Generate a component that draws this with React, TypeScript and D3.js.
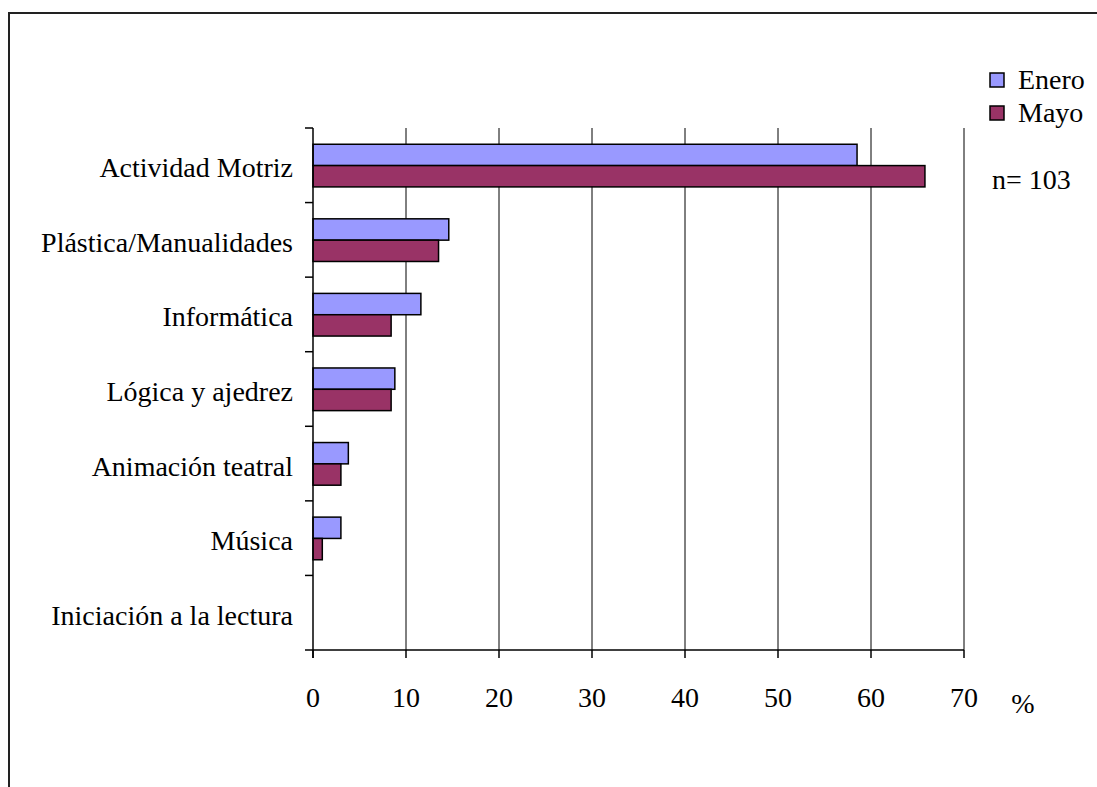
import React from "react";
import * as d3 from "d3";

const categories = [
  "Actividad Motriz",
  "Plástica/Manualidades",
  "Informática",
  "Lógica y ajedrez",
  "Animación teatral",
  "Música",
  "Iniciación a la lectura",
];
const seriesNames = ["Enero", "Mayo"];
const eneroValues = [58.5, 14.6, 11.6, 8.8, 3.8, 3.0, 0];
const mayoValues = [65.8, 13.5, 8.4, 8.4, 3.0, 1.0, 0];
const xTicks = [0, 10, 20, 30, 40, 50, 60, 70];
const seriesColors = ["#9999FF", "#993366"];
const sampleNote = "n= 103";
const unitLabel = "%";

export default function App() {
  const W = 1097;
  const H = 787;
  const left = 313;
  const right = 964;
  const top = 128;
  const bottom = 650;
  const font = "'Liberation Serif', 'Times New Roman', serif";
  const fs = 28;

  const x = d3.scaleLinear().domain([0, 70]).range([left, right]);
  const y = d3.scaleBand<string>().domain(categories).range([top, bottom]).padding(0);
  const bw = y.bandwidth();
  const inner = d3
    .scaleBand<string>()
    .domain(seriesNames)
    .range([bw * 0.218, bw * 0.79])
    .padding(0);

  const data = [eneroValues, mayoValues];

  return (
    <svg
      width={W}
      height={H}
      style={{ position: "fixed", left: 0, top: 0, background: "#fff", fontFamily: font }}
    >
      <rect x={0} y={0} width={W} height={H} fill="#fff" />
      {/* outer border */}
      <rect x={9} y={13} width={W + 20} height={H + 20} fill="none" stroke="#222" strokeWidth={2} />

      {/* gridlines */}
      {xTicks.slice(1).map((t) => (
        <line key={"g" + t} x1={x(t)} x2={x(t)} y1={top} y2={bottom} stroke="#000" strokeWidth={1} />
      ))}

      {/* bars */}
      {categories.map((c, i) =>
        seriesNames.map((s, j) => {
          const v = data[j][i];
          if (v <= 0) return null;
          return (
            <rect
              key={c + s}
              x={x(0)}
              y={(y(c) as number) + (inner(s) as number)}
              width={x(v) - x(0)}
              height={inner.bandwidth()}
              fill={seriesColors[j]}
              stroke="#000"
              strokeWidth={1.5}
            />
          );
        })
      )}

      {/* y axis */}
      <line x1={left} x2={left} y1={top} y2={bottom + 8} stroke="#000" strokeWidth={1.5} />
      {categories.map((c, i) => (
        <line key={"yt" + i} x1={left - 8} x2={left} y1={y(c) as number} y2={y(c) as number} stroke="#000" strokeWidth={1.5} />
      ))}
      <line x1={left - 8} x2={left} y1={bottom} y2={bottom} stroke="#000" strokeWidth={1.5} />
      {categories.map((c) => (
        <text
          key={"yl" + c}
          x={293}
          y={(y(c) as number) + bw / 2 + 12}
          textAnchor="end"
          fontSize={fs}
          fill="#000"
        >
          {c}
        </text>
      ))}

      {/* x axis */}
      <line x1={left} x2={right} y1={bottom} y2={bottom} stroke="#000" strokeWidth={1.5} />
      {xTicks.map((t) => (
        <g key={"xt" + t}>
          <line x1={x(t)} x2={x(t)} y1={bottom} y2={bottom + 8} stroke="#000" strokeWidth={1.5} />
          <text x={x(t)} y={707} textAnchor="middle" fontSize={fs} fill="#000">
            {t}
          </text>
        </g>
      ))}
      <text x={1023} y={713} textAnchor="middle" fontSize={fs} fill="#000">
        {unitLabel}
      </text>

      {/* legend */}
      {seriesNames.map((s, j) => (
        <g key={"lg" + s} transform={`translate(990, ${73 + j * 33})`}>
          <rect x={0} y={0} width={14} height={14} fill={seriesColors[j]} stroke="#000" strokeWidth={1.5} />
          <text x={28} y={16} fontSize={fs} fill="#000">
            {s}
          </text>
        </g>
      ))}
      <text x={992} y={189} fontSize={fs} fill="#000">
        {sampleNote}
      </text>
    </svg>
  );
}
